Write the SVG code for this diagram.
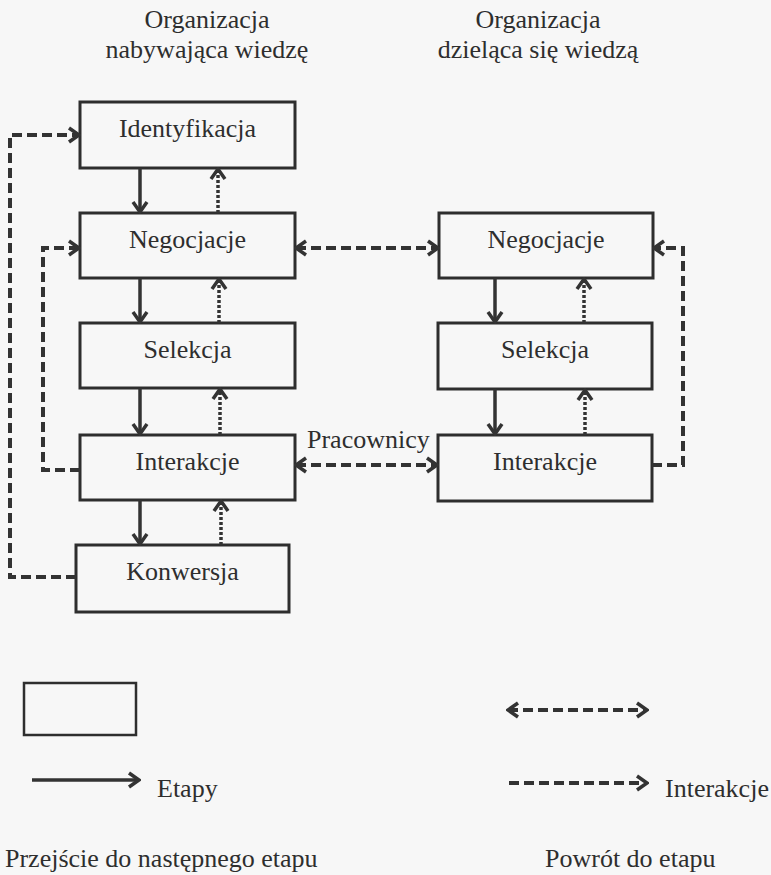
<svg xmlns="http://www.w3.org/2000/svg" width="771" height="875" viewBox="0 0 771 875">
<defs>
<style>
.box rect{fill:none;stroke:#2e2e2e;stroke-width:3}
text{fill:#2e2e2e;font-family:"Liberation Serif","Times New Roman",serif;font-size:26px}
.c{text-anchor:middle}
.solid{fill:none;stroke:#333;stroke-width:3.5}
.dot{fill:none;stroke:#333;stroke-width:3.5;stroke-dasharray:3 2}
.dash{fill:none;stroke:#333;stroke-width:4;stroke-dasharray:10 5}
</style>
<marker id="ah" viewBox="0 0 14 18" refX="12" refY="9" markerWidth="14" markerHeight="18" markerUnits="userSpaceOnUse" orient="auto-start-reverse">
<path d="M2,2 L12,9 L2,16" fill="none" stroke="#333" stroke-width="3.5" stroke-linejoin="miter"/>
</marker>
</defs>
<rect x="0" y="0" width="771" height="875" fill="#f7f7f7"/>

<g id="titles">
<text class="c" x="207" y="28">Organizacja</text>
<text class="c" x="207" y="58">nabywająca wiedzę</text>
<text class="c" x="538" y="28">Organizacja</text>
<text class="c" x="538" y="58">dzieląca się wiedzą</text>
</g>

<g id="n-identyfikacja" class="box"><rect x="80" y="102" width="215" height="66"/><text class="c" x="187.5" y="137">Identyfikacja</text></g>
<g id="n-negocjacje-l" class="box"><rect x="80" y="213" width="215" height="65"/><text class="c" x="187.5" y="248">Negocjacje</text></g>
<g id="n-selekcja-l" class="box"><rect x="80" y="323" width="215" height="65"/><text class="c" x="187.5" y="358">Selekcja</text></g>
<g id="n-interakcje-l" class="box"><rect x="80" y="435" width="215" height="65"/><text class="c" x="187.5" y="470">Interakcje</text></g>
<g id="n-konwersja" class="box"><rect x="76" y="545" width="213" height="67"/><text class="c" x="182.5" y="580">Konwersja</text></g>
<g id="n-negocjacje-r" class="box"><rect x="439" y="213" width="214" height="65"/><text class="c" x="546" y="248">Negocjacje</text></g>
<g id="n-selekcja-r" class="box"><rect x="438" y="323" width="214" height="66"/><text class="c" x="545" y="358">Selekcja</text></g>
<g id="n-interakcje-r" class="box"><rect x="438" y="435" width="214" height="66"/><text class="c" x="545" y="470">Interakcje</text></g>

<g id="connectors">
<line class="solid" x1="140" y1="168" x2="140" y2="212" marker-end="url(#ah)"/>
<line class="solid" x1="140" y1="278" x2="140" y2="322" marker-end="url(#ah)"/>
<line class="solid" x1="140" y1="388" x2="140" y2="434" marker-end="url(#ah)"/>
<line class="solid" x1="140" y1="500" x2="140" y2="544" marker-end="url(#ah)"/>
<line class="solid" x1="495" y1="278" x2="495" y2="322" marker-end="url(#ah)"/>
<line class="solid" x1="495" y1="389" x2="495" y2="434" marker-end="url(#ah)"/>
<line class="dot" x1="218" y1="213" x2="218" y2="169" marker-end="url(#ah)"/>
<line class="dot" x1="219" y1="323" x2="219" y2="279" marker-end="url(#ah)"/>
<line class="dot" x1="220" y1="435" x2="220" y2="389" marker-end="url(#ah)"/>
<line class="dot" x1="221" y1="545" x2="221" y2="501" marker-end="url(#ah)"/>
<line class="dot" x1="584" y1="323" x2="584" y2="279" marker-end="url(#ah)"/>
<line class="dot" x1="585" y1="435" x2="585" y2="390" marker-end="url(#ah)"/>
<path class="dash" d="M76,577 H10 V135 H79" marker-end="url(#ah)"/>
<path class="dash" d="M80,470 H43 V248 H79" marker-end="url(#ah)"/>
<path class="dash" d="M652,465 H683 V248 H654" marker-end="url(#ah)"/>
<line class="dash" x1="296" y1="248" x2="438" y2="248" marker-start="url(#ah)" marker-end="url(#ah)"/>
<line class="dash" x1="296" y1="465" x2="437" y2="465" marker-start="url(#ah)" marker-end="url(#ah)"/>
</g>
<text x="307" y="448">Pracownicy</text>

<g id="legend">
<rect x="24" y="683" width="112" height="52" fill="none" stroke="#2e2e2e" stroke-width="2.5"/>
<line class="solid" x1="32" y1="780" x2="139" y2="780" marker-end="url(#ah)"/>
<text x="157" y="797">Etapy</text>
<text x="5" y="867">Przejście do następnego etapu</text>
<line class="dash" x1="508" y1="710" x2="647" y2="710" marker-start="url(#ah)" marker-end="url(#ah)"/>
<line class="dash" x1="509" y1="783" x2="647" y2="783" marker-end="url(#ah)"/>
<text x="665" y="797">Interakcje</text>
<text x="545" y="867">Powrót do etapu</text>
</g>
</svg>
